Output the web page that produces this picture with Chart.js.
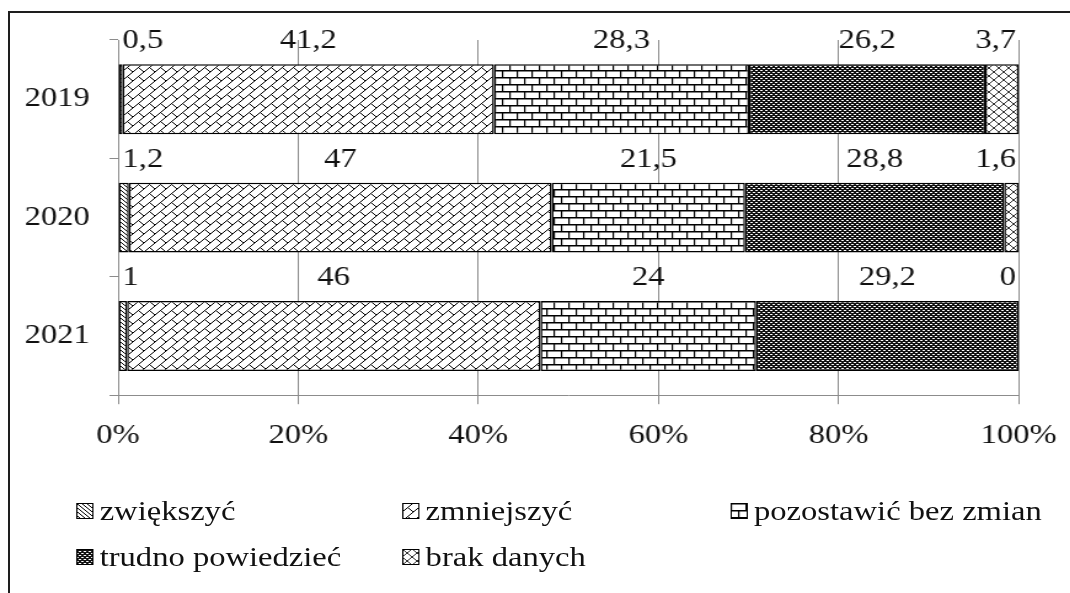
<!DOCTYPE html>
<html lang="pl">
<head>
<meta charset="UTF-8">
<title>Zwiększyć czy zmniejszyć</title>
<script src="https://cdn.jsdelivr.net/npm/chart.js"></script>
<style>
    html, body { margin: 0; width: 1070px; height: 593px; overflow: hidden; background: #fff; }
    body { position: relative; }
    /* the original is a framed picture, cut at right and bottom */
    .frame {
        position: absolute; left: 8px; top: 11px; right: -20px; bottom: -20px;
        border-left: 2px solid #1e1e1e; border-top: 2px solid #1e1e1e;
    }
    /* the reference is stretched sideways, so draw narrow and widen it */
    .stretch {
        position: absolute; left: 0; top: 0; width: 875px; height: 593px;
        transform: scaleX(1.23); transform-origin: 0 0;
    }
    .legend {
        position: absolute; left: 62px; top: 496px;
        display: grid; grid-template-columns: 265px 267px auto; row-gap: 16px;
        font: 26.5px 'Liberation Serif', 'Times New Roman', serif; line-height: 30px; color: #111;
    }
    .legend div { display: flex; align-items: center; white-space: nowrap; }
    .legend canvas { margin-right: 5px; }
</style>
</head>
<body>
<div class="frame"></div>
<div class="stretch">
    <canvas id="chart" width="875" height="593"></canvas>
    <div class="legend" id="legend"></div>
</div>

<script>
const years = ['2019', '2020', '2021'];
const seriesNames = ['zwiększyć', 'zmniejszyć', 'pozostawić bez zmian', 'trudno powiedzieć', 'brak danych'];
const zwiekszyc = [0.5, 1.2, 1];
const zmniejszyc = [41.2, 47, 46];
const bezZmian = [28.3, 21.5, 24];
const trudno = [26.2, 28.8, 29.2];
const brakDanych = [3.7, 1.6, 0];
const xTicks = [0, 20, 40, 60, 80, 100];

const series = [zwiekszyc, zmniejszyc, bezZmian, trudno, brakDanych];
const FONT_FAMILY = "'Liberation Serif', 'Times New Roman', serif";
const TEXT = '#111';
const GRID = '#8c8c8c';

// 100% stacked, like the original: each year scaled to its own total
const totals = years.map((y, j) => series.reduce((s, arr) => s + arr[j], 0));

function tile(w, h, draw) {
    const c = document.createElement('canvas');
    c.width = w; c.height = h;
    const g = c.getContext('2d');
    g.fillStyle = '#fff';
    g.fillRect(0, 0, w, h);
    g.strokeStyle = '#000';
    draw(g, w, h);
    return c;
}
function lines(g, segs) {
    g.beginPath();
    segs.forEach(s => { g.moveTo(s[0], s[1]); g.lineTo(s[2], s[3]); });
    g.stroke();
}

const tiles = [
    // fine back diagonal
    tile(4, 4, g => { g.lineWidth = 1; lines(g, [[-1, -1, 5, 5], [-1, 3, 1, 5], [3, -1, 5, 1]]); }),
    // diagonal brick
    tile(9, 9, g => { g.lineWidth = 1; lines(g, [[-1, 10, 10, -1], [-1, 1, 1, -1], [8, 10, 10, 8], [4.5, 4.5, 10, 10]]); }),
    // horizontal brick
    tile(12, 14, g => {
        g.fillStyle = '#000';
        g.fillRect(0, 0, 12, 1.5); g.fillRect(0, 7, 12, 1.5);
        g.fillRect(0, 0, 1.2, 7); g.fillRect(6, 7, 1.2, 7);
    }),
    // dark dotted
    tile(4, 4, g => {
        g.fillStyle = '#111'; g.fillRect(0, 0, 4, 4);
        g.fillStyle = '#fff'; g.fillRect(0, 0, 2, 1); g.fillRect(2, 2, 2, 1);
    }),
    // diagonal cross
    tile(8, 8, g => { g.lineWidth = 1; g.strokeStyle = '#333'; lines(g, [[0, 0, 8, 8], [0, 8, 8, 0]]); })
];

const ctx = document.getElementById('chart').getContext('2d');
const patterns = tiles.map(t => ctx.createPattern(t, 'repeat'));

const fmt = v => String(v).replace('.', ',');

const valueLabels = {
    id: 'valueLabels',
    afterDatasetsDraw(chart) {
        const c = chart.ctx, area = chart.chartArea;
        const last = chart.data.datasets.length - 1;
        c.save();
        c.font = '26.5px ' + FONT_FAMILY;
        c.fillStyle = TEXT;
        c.textBaseline = 'alphabetic';
        chart.data.datasets.forEach((ds, i) => {
            chart.getDatasetMeta(i).data.forEach((bar, j) => {
                const p = bar.getProps(['x', 'y', 'base', 'height'], true);
                const start = Math.min(p.base, p.x);
                const end = Math.min(Math.max(p.base, p.x), area.right);
                const y = p.y - p.height / 2 - 16;
                let x;
                if (i === 0) { x = start + 3; c.textAlign = 'left'; }
                else if (i === last) { x = area.right - 2; c.textAlign = 'right'; }
                else { x = (start + end) / 2; c.textAlign = 'center'; }
                c.fillText(fmt(series[i][j]), x, y);
            });
        });
        c.restore();
    }
};

new Chart(ctx, {
    type: 'bar',
    data: {
        labels: years,
        datasets: series.map((arr, i) => ({
            label: seriesNames[i],
            data: arr.map((v, j) => v / totals[j] * 100),
            backgroundColor: patterns[i],
            borderColor: '#000',
            borderWidth: 1.5,
            borderSkipped: false,
            barPercentage: 0.59,
            categoryPercentage: 1
        }))
    },
    options: {
        indexAxis: 'y',
        responsive: false,
        animation: false,
        layout: { padding: { left: 4, right: 35, top: 40, bottom: 125 } },
        plugins: { legend: { display: false }, tooltip: { enabled: false } },
        scales: {
            x: {
                stacked: true,
                min: 0,
                max: 100,
                afterBuildTicks: s => { s.ticks = xTicks.map(v => ({ value: v })); },
                grid: { color: GRID, tickLength: 9 },
                border: { color: GRID },
                ticks: {
                    padding: 16,
                    color: TEXT,
                    font: { family: FONT_FAMILY, size: 26.5 },
                    callback: v => v + '%'
                }
            },
            y: {
                stacked: true,
                grid: { drawOnChartArea: false, offset: true, tickLength: 7, color: GRID },
                border: { color: GRID },
                ticks: {
                    padding: 16,
                    color: TEXT,
                    font: { family: FONT_FAMILY, size: 26.5 }
                }
            }
        }
    },
    plugins: [valueLabels]
});

// legend in three columns, as in the original
const legend = document.getElementById('legend');
seriesNames.forEach((name, i) => {
    const item = document.createElement('div');
    const icon = document.createElement('canvas');
    icon.width = 14; icon.height = 16;
    const g = icon.getContext('2d');
    g.fillStyle = g.createPattern(tiles[i], 'repeat');
    g.fillRect(0, 0, 14, 16);
    g.strokeStyle = '#000';
    g.lineWidth = 1;
    g.strokeRect(0.5, 0.5, 13, 15);
    item.appendChild(icon);
    item.appendChild(document.createTextNode(name));
    legend.appendChild(item);
});
</script>
</body>
</html>
